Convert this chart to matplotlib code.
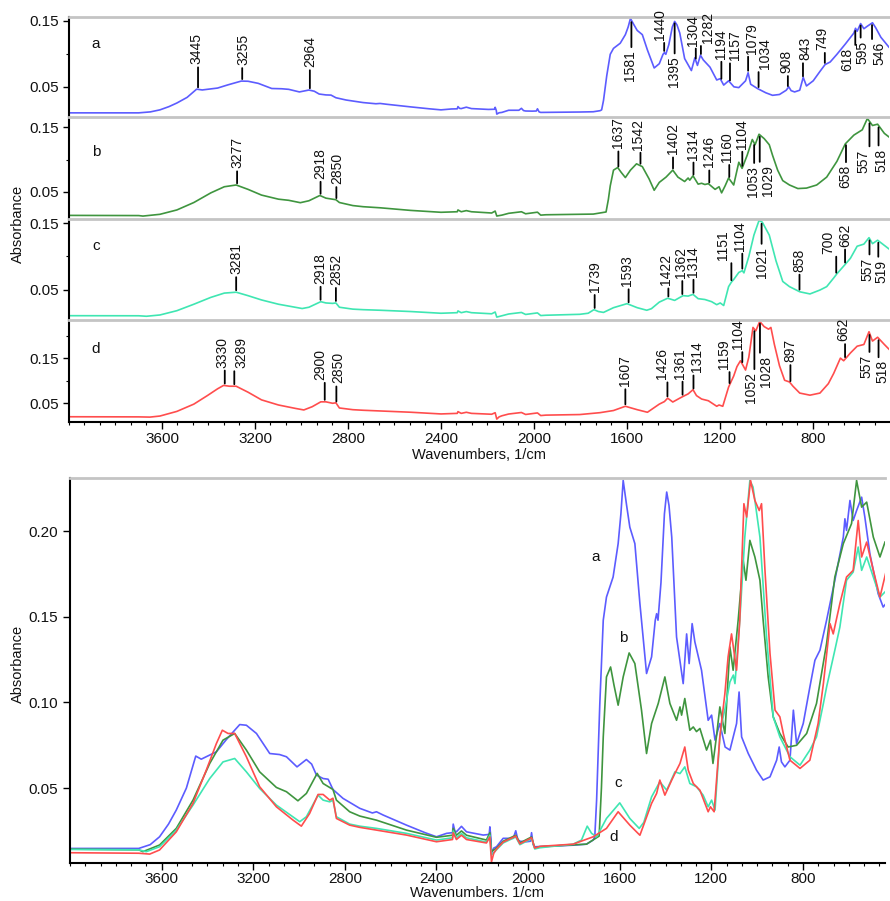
import matplotlib
matplotlib.use('Agg')
import matplotlib.pyplot as plt
import matplotlib.ticker as mticker
import numpy as np

plt.rcParams['font.family'] = ['Liberation Sans', 'DejaVu Sans']

# ---- spectra (wavenumber, absorbance) ----
wn_a = [4000, 3700, 3650, 3609, 3570, 3536, 3492, 3470, 3451, 3427, 3361, 3317, 3259, 3230,
        3186, 3128, 3085, 3055, 3009, 2968, 2945, 2924, 2895, 2873, 2852, 2808, 2735, 2680,
        2662, 2633, 2531, 2450, 2400, 2356, 2330, 2327, 2320, 2313, 2291, 2269, 2196, 2170,
        2167, 2162, 2160, 2150, 2138, 2109, 2065, 2054, 2045, 2036, 2007, 1990, 1985, 1978,
        1971, 1920, 1803, 1745, 1716, 1709, 1701, 1687, 1672, 1658, 1629, 1607, 1595, 1585,
        1570, 1556, 1534, 1512, 1483, 1461, 1445, 1439, 1433, 1420, 1405, 1395, 1385, 1373,
        1352, 1323, 1308, 1297, 1284, 1272, 1243, 1214, 1199, 1184, 1163, 1140, 1119, 1090,
        1079, 1068, 1039, 1003, 974, 944, 915, 904, 894, 879, 857, 842, 828, 799, 770, 748,
        726, 697, 661, 624, 617, 610, 595, 581, 566, 544, 530, 508, 472, 450, 436]
abs_a = [0.0148, 0.0148, 0.0170, 0.0216, 0.0290, 0.0372, 0.0500, 0.0600, 0.0687, 0.0669,
         0.0712, 0.0784, 0.0871, 0.0867, 0.0819, 0.0702, 0.0696, 0.0683, 0.0624, 0.0667,
         0.0640, 0.0576, 0.0556, 0.0552, 0.0492, 0.0440, 0.0382, 0.0355, 0.0362, 0.0343,
         0.0284, 0.0240, 0.0216, 0.0236, 0.0240, 0.0290, 0.0250, 0.0245, 0.0277, 0.0245,
         0.0226, 0.0230, 0.0274, 0.0200, 0.0119, 0.0150, 0.0158, 0.0207, 0.0207, 0.0251,
         0.0200, 0.0190, 0.0187, 0.0190, 0.0240, 0.0170, 0.0158, 0.0160, 0.0167, 0.0173,
         0.0197, 0.0216, 0.0430, 0.0994, 0.1480, 0.1615, 0.1732, 0.1927, 0.2100, 0.2296,
         0.2150, 0.2023, 0.1927, 0.1577, 0.1169, 0.1266, 0.1480, 0.1518, 0.1480, 0.1700,
         0.2100, 0.2228, 0.2150, 0.1965, 0.1382, 0.1110, 0.1400, 0.1227, 0.1460, 0.1353,
         0.1188, 0.0896, 0.0926, 0.0780, 0.0877, 0.0740, 0.0722, 0.0877, 0.1061, 0.0799,
         0.0702, 0.0605, 0.0547, 0.0566, 0.0663, 0.0740, 0.0653, 0.0624, 0.0663, 0.0955,
         0.0760, 0.0877, 0.1090, 0.1246, 0.1305, 0.1480, 0.1713, 0.1965, 0.2072, 0.2004,
         0.2179, 0.2062, 0.2120, 0.2198, 0.2082, 0.1868, 0.1635, 0.1557, 0.1580]

wn_b = [4000, 3700, 3682, 3609, 3536, 3463, 3390, 3332, 3281, 3230, 3172, 3099, 3055, 3005,
        2968, 2921, 2895, 2852, 2837, 2779, 2735, 2662, 2531, 2400, 2330, 2327, 2313, 2291,
        2269, 2182, 2167, 2160, 2138, 2109, 2054, 2036, 1985, 1971, 1949, 1745, 1690, 1680,
        1672, 1658, 1640, 1625, 1607, 1585, 1559, 1534, 1505, 1483, 1461, 1432, 1403, 1381,
        1352, 1337, 1330, 1316, 1294, 1279, 1265, 1250, 1221, 1204, 1193, 1178, 1163, 1141,
        1119, 1105, 1083, 1061, 1049, 1032, 1010, 988, 974, 952, 930, 901, 865, 828, 784,
        741, 697, 661, 624, 588, 566, 544, 522, 493, 464, 442]
abs_b = [0.0144, 0.0140, 0.0129, 0.0168, 0.0265, 0.0430, 0.0644, 0.0780, 0.0819, 0.0722,
         0.0595, 0.0504, 0.0479, 0.0426, 0.0469, 0.0586, 0.0527, 0.0492, 0.0430, 0.0362,
         0.0337, 0.0313, 0.0255, 0.0213, 0.0225, 0.0265, 0.0225, 0.0250, 0.0225, 0.0197,
         0.0240, 0.0130, 0.0150, 0.0190, 0.0225, 0.0180, 0.0215, 0.0150, 0.0158, 0.0173,
         0.0220, 0.0500, 0.0799, 0.1149, 0.1207, 0.1100, 0.0984, 0.1149, 0.1289, 0.1227,
         0.0955, 0.0702, 0.0877, 0.0994, 0.1149, 0.0994, 0.0896, 0.0974, 0.0926, 0.1023,
         0.0838, 0.0857, 0.0830, 0.0848, 0.0722, 0.0780, 0.0644, 0.0799, 0.0974, 0.0819,
         0.1324, 0.1188, 0.1480, 0.1829, 0.1713, 0.1946, 0.1849, 0.1713, 0.1480, 0.1149,
         0.0916, 0.0819, 0.0740, 0.0750, 0.0819, 0.0994, 0.1344, 0.1732, 0.1927, 0.2044,
         0.2296, 0.2140, 0.2169, 0.1965, 0.1849, 0.1936]

wn_c = [4000, 3700, 3667, 3609, 3536, 3463, 3390, 3332, 3281, 3230, 3172, 3099, 2997, 2968,
        2917, 2895, 2866, 2852, 2837, 2779, 2735, 2662, 2531, 2400, 2330, 2327, 2313, 2291,
        2269, 2182, 2167, 2160, 2138, 2109, 2054, 2036, 1985, 1971, 1949, 1803, 1767, 1742,
        1723, 1701, 1658, 1600, 1556, 1515, 1495, 1461, 1425, 1395, 1359, 1337, 1316, 1294,
        1265, 1236, 1214, 1199, 1184, 1163, 1151, 1141, 1119, 1104, 1097, 1076, 1054, 1032,
        1018, 988, 959, 930, 901, 857, 813, 770, 741, 711, 697, 661, 639, 610, 581, 559, 544,
        522, 493, 464, 442]
abs_c = [0.0142, 0.0140, 0.0129, 0.0158, 0.0255, 0.0401, 0.0556, 0.0653, 0.0673, 0.0595,
         0.0498, 0.0401, 0.0304, 0.0333, 0.0459, 0.0430, 0.0420, 0.0430, 0.0333, 0.0290,
         0.0278, 0.0265, 0.0236, 0.0197, 0.0210, 0.0250, 0.0210, 0.0235, 0.0210, 0.0185,
         0.0225, 0.0110, 0.0140, 0.0180, 0.0215, 0.0170, 0.0205, 0.0145, 0.0152, 0.0173,
         0.0197, 0.0278, 0.0236, 0.0216, 0.0323, 0.0414, 0.0323, 0.0265, 0.0300, 0.0449,
         0.0537, 0.0488, 0.0595, 0.0585, 0.0624, 0.0527, 0.0508, 0.0459, 0.0391, 0.0430,
         0.0372, 0.0799, 0.0900, 0.0960, 0.1120, 0.1160, 0.1110, 0.1480, 0.1965, 0.2296,
         0.2257, 0.1965, 0.1382, 0.0916, 0.0799, 0.0683, 0.0634, 0.0722, 0.0799, 0.0994,
         0.1090, 0.1305, 0.1440, 0.1713, 0.1761, 0.1907, 0.1771, 0.1849, 0.1732, 0.1615,
         0.1645]

wn_d = [4000, 3700, 3652, 3609, 3536, 3463, 3405, 3361, 3335, 3310, 3281, 3230, 3172, 3099,
        3026, 2990, 2954, 2917, 2895, 2866, 2852, 2837, 2779, 2735, 2662, 2531, 2400, 2330,
        2327, 2313, 2291, 2269, 2182, 2167, 2160, 2150, 2138, 2109, 2054, 2036, 1985, 1971,
        1949, 1803, 1716, 1658, 1607, 1556, 1512, 1461, 1439, 1425, 1403, 1373, 1359, 1337,
        1316, 1301, 1279, 1250, 1214, 1204, 1188, 1163, 1141, 1127, 1112, 1090, 1076, 1058,
        1046, 1029, 1010, 991, 981, 966, 944, 922, 901, 886, 857, 813, 770, 734, 711, 682,
        668, 639, 610, 581, 559, 544, 522, 493, 464, 436]
abs_d = [0.0123, 0.0120, 0.0115, 0.0139, 0.0245, 0.0411, 0.0605, 0.0760, 0.0838, 0.0819,
         0.0819, 0.0683, 0.0508, 0.0391, 0.0313, 0.0278, 0.0352, 0.0463, 0.0463, 0.0430,
         0.0441, 0.0323, 0.0284, 0.0271, 0.0255, 0.0226, 0.0187, 0.0200, 0.0240, 0.0200,
         0.0225, 0.0200, 0.0180, 0.0215, 0.0070, 0.0120, 0.0145, 0.0185, 0.0220, 0.0175,
         0.0210, 0.0150, 0.0160, 0.0173, 0.0216, 0.0265, 0.0362, 0.0284, 0.0225, 0.0411,
         0.0469, 0.0547, 0.0459, 0.0547, 0.0586, 0.0644, 0.0740, 0.0605, 0.0527, 0.0488,
         0.0362, 0.0391, 0.0362, 0.0799, 0.1052, 0.1266, 0.1400, 0.1188, 0.1480, 0.2160,
         0.2082, 0.2296, 0.2179, 0.2120, 0.2160, 0.1771, 0.1285, 0.0955, 0.0916, 0.0819,
         0.0663, 0.0615, 0.0663, 0.0877, 0.1110, 0.1460, 0.1400, 0.1577, 0.1732, 0.1771,
         0.2062, 0.1849, 0.1936, 0.1771, 0.1615, 0.1771]

# ---- labelled peaks per spectrum ----
peaks_a = [3445, 3255, 2964, 1581, 1440, 1395, 1304, 1282, 1194, 1157, 1079, 1034, 908, 843,
           749, 618, 595, 546]
peaks_b = [3277, 2918, 2850, 1637, 1542, 1402, 1314, 1246, 1160, 1104, 1053, 1029, 658, 557, 518]
peaks_c = [3281, 2918, 2852, 1739, 1593, 1422, 1362, 1314, 1151, 1104, 1021, 858, 700, 662,
           557, 519]
peaks_d = [3330, 3289, 2900, 2850, 1607, 1426, 1361, 1314, 1159, 1104, 1052, 1028, 897, 662,
           557, 518]

names = ['a', 'b', 'c', 'd']
colors = ['#5c5cff', '#3f953f', '#3fe6b2', '#ff4d4d']
xticks = [3600, 3200, 2800, 2400, 2000, 1600, 1200, 800]

# label layout: (side: 1 above / -1 below, line length px, text shift px)
lay_a = [(1, 20, -2), (1, 11, 1), (1, 18, 0), (-1, 25, -1), (1, 8, -4), (-1, 30, -1),
         (1, 10, -3), (1, 8, 7), (1, 17, 0), (1, 17, 5), (1, 14, 4), (1, 15, 6), (1, 10, -1),
         (1, 13, 2), (1, 10, -3), (-1, 14, -8), (-1, 12, 2), (-1, 14, 7)]
lay_b = [(1, 12, 0), (1, 12, 0), (1, 11, 1), (1, 15, 0), (1, 11, -2), (1, 11, 0), (1, 12, 0),
         (1, 12, 0), (1, 12, -2), (1, 14, 0), (-1, 18, -1), (-1, 25, 8), (-1, 17, -1),
         (-1, 23, -6), (-1, 18, 3)]
lay_c = [(1, 13, 0), (1, 13, 0), (1, 13, 0), (1, 13, 0), (1, 13, -2), (1, 8, -2), (1, 13, -1),
         (1, 13, 0), (1, 17, -8), (1, 15, -2), (-1, 20, 0), (1, 15, 0), (1, 16, -8), (1, 13, 0),
         (-1, 14, -2), (-1, 14, 3)]
lay_d = [(1, 13, -2), (1, 13, 7), (1, 17, -4), (1, 15, 2), (1, 15, 0), (1, 14, -5), (1, 13, -3),
         (1, 13, 4), (1, 11, -6), (1, 10, -4), (-1, 38, -3), (-1, 29, 6), (1, 16, 0), (1, 13, -2),
         (-1, 17, -3), (-1, 17, 4)]

# y positions (axes fraction) of the "0.15" and "0.05" ticks in each stacked panel
tick_frac = [(0.963, 0.30), (0.90, 0.265), (0.96, 0.30), (0.627, 0.186)]
name_y = [0.73, 0.66, 0.73, 0.72]

wns = [wn_a, wn_b, wn_c, wn_d]
abss = [abs_a, abs_b, abs_c, abs_d]
peaks = [peaks_a, peaks_b, peaks_c, peaks_d]
lays = [lay_a, lay_b, lay_c, lay_d]

PT = 0.72  # px -> points at 100 dpi
ink = '#111111'


def label_peaks(ax, wn, ab, pk, lay):
    x = np.array(wn)[::-1]
    y = np.array(ab)[::-1]
    for p, (side, length, shift) in zip(pk, lay):
        yc = np.interp(p, x, y)
        ax.annotate('', xy=(p, yc), xytext=(0, side * (2 + length) * PT),
                    textcoords='offset points', annotation_clip=False,
                    arrowprops=dict(arrowstyle='-', color='k', lw=1.3,
                                    shrinkA=0, shrinkB=2 * PT))
        ax.annotate(str(p), xy=(p, yc), xytext=(shift * PT, side * (length + 5) * PT),
                    textcoords='offset points', rotation=90, ha='center',
                    va='bottom' if side > 0 else 'top', fontsize=10, color=ink,
                    annotation_clip=False)


fig = plt.figure(figsize=(8.9, 9.01), dpi=100)

# ---- stacked panels ----
edges = [17, 117, 219, 320, 422]
left, right = 69 / 890, 889 / 890
for i in range(4):
    top_px, bot_px = edges[i], edges[i + 1]
    ax = fig.add_axes([left, 1 - bot_px / 901, right - left, (bot_px - top_px) / 901])
    ax.plot(wns[i], abss[i], color=colors[i], lw=1.2)
    lo_d, hi_d = min(abss[i]), max(abss[i])
    rng = hi_d - lo_d
    lo, hi = lo_d - 0.03 * rng, hi_d + 0.015 * rng
    ax.set_ylim(lo, hi)
    ax.set_xlim(4000, 473)
    f15, f05 = tick_frac[i]
    p15, p05 = lo + f15 * (hi - lo), lo + f05 * (hi - lo)
    ax.yaxis.set_major_locator(mticker.FixedLocator([p05, p15]))
    ax.yaxis.set_major_formatter(mticker.FixedFormatter(['0.05', '0.15']))
    step = (p15 - p05) / 2
    minors = [v for v in np.arange(p05 - 4 * step, p15 + 4 * step, step) if lo <= v <= hi]
    ax.yaxis.set_minor_locator(mticker.FixedLocator(minors))
    ax.tick_params(axis='y', which='major', direction='out', length=4, width=1,
                   labelsize=11, labelcolor=ink)
    ax.tick_params(axis='y', which='minor', direction='out', length=2, width=0.8)
    ax.spines['right'].set_visible(False)
    ax.spines['top'].set_color('#c4c4c4')
    ax.spines['top'].set_linewidth(2)
    ax.spines['left'].set_linewidth(1.5)
    ax.text(0.033, name_y[i], names[i], transform=ax.transAxes, fontsize=11, color=ink,
            ha='center', va='center')
    label_peaks(ax, wns[i], abss[i], peaks[i], lays[i])
    if i < 3:
        ax.spines['bottom'].set_visible(False)
        ax.tick_params(axis='x', which='both', bottom=False, labelbottom=False)
    else:
        ax.spines['bottom'].set_linewidth(1.5)
        ax.xaxis.set_major_locator(mticker.FixedLocator(xticks))
        ax.xaxis.set_minor_locator(mticker.MultipleLocator(400 / 6))
        ax.tick_params(axis='x', which='major', direction='out', length=5, width=1,
                       labelsize=11, labelcolor=ink, pad=2.5)
        ax.tick_params(axis='x', which='minor', direction='out', length=2.5, width=0.8)
        ax.set_xlabel('Wavenumbers, 1/cm', fontsize=10.5, color=ink, labelpad=1)

fig.text(17.5 / 890, 1 - 224 / 901, 'Absorbance', rotation=90, ha='center', va='center',
         fontsize=10.5, color=ink)

# ---- overlay panel ----
ax2 = fig.add_axes([70 / 890, 1 - 863 / 901, (885 - 70) / 890, (863 - 478) / 901])
for i in range(4):
    ax2.plot(wns[i], abss[i], color=colors[i], lw=1.2)
ax2.set_xlim(4000, 442)
ax2.set_ylim(0.0063, 0.231)
ax2.xaxis.set_major_locator(mticker.FixedLocator(xticks))
ax2.xaxis.set_minor_locator(mticker.MultipleLocator(400 / 6))
ax2.yaxis.set_major_locator(mticker.FixedLocator([0.05, 0.10, 0.15, 0.20]))
ax2.yaxis.set_major_formatter(mticker.FormatStrFormatter('%.2f'))
ax2.tick_params(which='major', direction='out', length=5, width=1, labelsize=11,
                labelcolor=ink)
ax2.tick_params(axis='x', which='major', pad=1.5)
ax2.tick_params(axis='x', which='minor', direction='out', length=2.5, width=0.8)
ax2.spines['right'].set_visible(False)
ax2.spines['top'].set_color('#c4c4c4')
ax2.spines['top'].set_linewidth(2)
ax2.spines['left'].set_linewidth(1.5)
ax2.spines['bottom'].set_linewidth(1.5)
ax2.set_xlabel('Wavenumbers. 1/cm', fontsize=10.5, color=ink, labelpad=0)
ax2.set_ylabel('Absorbance', fontsize=10.5, color=ink)
ax2.yaxis.set_label_coords(-0.055, 0.517)

overlay_names = [(1704, 0.185), (1586, 0.1375), (1608, 0.0529), (1626, 0.0214)]
for n, (x, y) in zip(names, overlay_names):
    ax2.text(x, y, n, fontsize=11, color=ink, ha='center', va='center')

fig.savefig('out.png', dpi=100)
